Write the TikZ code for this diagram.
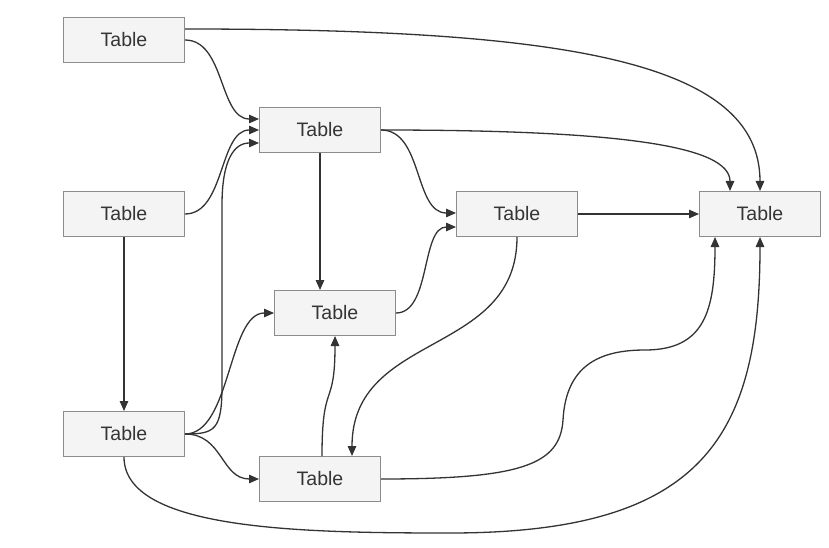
\documentclass[tikz,border=0pt]{standalone}
\usepackage{fontspec}
\setmainfont{Liberation Sans}
\usetikzlibrary{arrows.meta,calc}
\definecolor{boxfill}{HTML}{F4F4F4}
\definecolor{boxline}{HTML}{8C8C8C}
\definecolor{txt}{HTML}{353535}
\definecolor{edge}{HTML}{333333}
\begin{document}
\begin{tikzpicture}[x=1pt,y=-1pt,
  tbl/.style={draw=boxline,fill=boxfill,line width=1pt,minimum width=121pt,minimum height=45pt,
    inner sep=0pt,text=txt,font=\fontsize{19.5}{22}\selectfont},
  conn/.style={draw=edge,line width=1.3pt,-{Triangle[length=10pt,width=8.5pt]}}]
\useasboundingbox (0,0) rectangle (829,548);
\node[tbl] (a) at (124,40) {Table};
\node[tbl] (b) at (320,130) {Table};
\node[tbl] (c) at (124,214) {Table};
\node[tbl] (d) at (517,214) {Table};
\node[tbl] (e) at (760,214) {Table};
\node[tbl] (f) at (335,313) {Table};
\node[tbl] (g) at (124,434) {Table};
\node[tbl] (h) at (320,479) {Table};
\coordinate (g1) at (222,385);
\coordinate (g2) at (222,205);
\coordinate (m1) at (450,533);
\coordinate (h1) at (563,420);
\coordinate (h2) at (645,350);
% from a
\draw[conn] (a.east) .. controls +(40,0) and +(-40,0) .. ($(b.west)+(0,-11)$);
\draw[conn] ($(a.east)+(0,-11)$) .. controls +(380,0) and +(0,-130) .. (e.north);
% from b
\draw[conn] (b.east) .. controls +(240,0) and +(0,-45) .. ($(e.north)+(-30,0)$);
\draw[conn] (b.east) .. controls +(42,0) and +(-42,0) .. ($(d.west)+(0,-1)$);
\draw[conn] (b.south) -- (b.south |- f.north);
% from c
\draw[conn] (c.east) .. controls +(40,0) and +(-40,0) .. (b.west);
\draw[conn] (c.south) -- (g.north);
% from d
\draw[conn] (d.east) -- (e.west);
\draw[conn] (d.south) .. controls +(0,120) and +(0,-125) .. ($(h.north)+(32,0)$);
% from f
\draw[conn] (f.east) .. controls +(35,0) and +(-35,0) .. ($(d.west)+(0,13)$);
% from g
\draw[conn] (g.east) .. controls +(30,0) and +(0,45) .. (g1) -- (g2) .. controls +(0,-45) and +(-25,0) .. ($(b.west)+(0,13)$);
\draw[conn] (g.east) .. controls +(46,0) and +(-46,0) .. (f.west);
\draw[conn] (g.east) .. controls +(38,0) and +(-38,0) .. (h.west);
\draw[conn] (g.south) .. controls +(0,73) and +(-150,0) .. (m1) .. controls +(250,0) and +(0,203) .. (e.south);
% from h
\draw[conn] ($(h.north)+(2,0)$) .. controls +(0,-77) and +(0,74) .. (f.south);
\draw[conn] (h.east) .. controls +(140,0) and +(-3,45) .. (h1) .. controls +(3,-55) and +(-45,0) .. (h2) .. controls +(60,0) and +(0,73) .. ($(e.south)+(-45,0)$);
\end{tikzpicture}
\end{document}
